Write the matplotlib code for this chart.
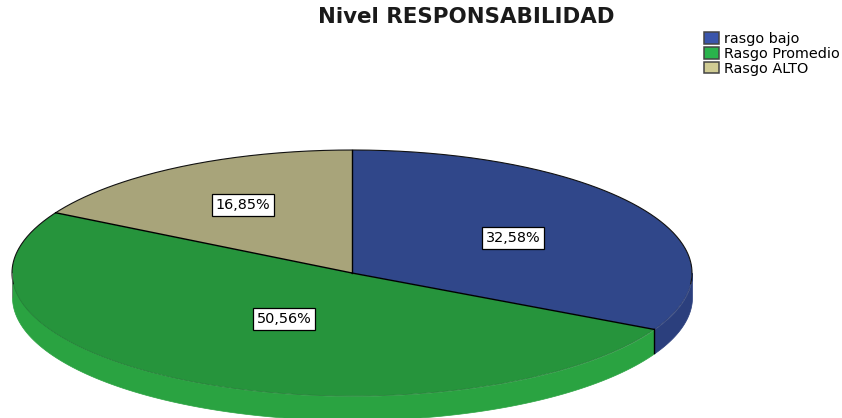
import numpy as np
import matplotlib
matplotlib.use("Agg")
import matplotlib.pyplot as plt
from matplotlib.patches import Patch

plt.rcParams['font.family'] = ['DejaVu Sans']

title = "Nivel RESPONSABILIDAD"
categories = ["rasgo bajo", "Rasgo Promedio", "Rasgo ALTO"]
values = [32.58, 50.56, 16.85]
labels = ["32,58%", "50,56%", "16,85%"]

top_colors = ["#30478a", "#26943c", "#a8a47a"]
side_colors = ["#2b3f7d", "#2aa341", "#98946c"]
legend_colors = ["#3a55ab", "#2ab34c", "#d0cc94"]

W, H = 842, 418
cx, cy = 352, 273      # pie centre in pixels
rx, ry = 340, 123      # ellipse radii in pixels
depth = 24 / ry        # side height in axis units

fig = plt.figure(figsize=(W / 100, H / 100), dpi=100)
ax = fig.add_axes([0, 0, 1, 1])

# wedge edges, clockwise from the top
fracs = np.array(values) / sum(values)
edges = 90 - 360 * np.concatenate(([0], np.cumsum(fracs)))

# side band, only the front half of the ellipse is visible
for i in range(len(values)):
    a1, a0 = edges[i], edges[i + 1]
    a0 = max(a0, -180)
    a1 = min(a1, 0)
    if a1 <= a0:
        continue
    t = np.radians(np.linspace(a0, a1, 120))
    ax.fill_between(np.cos(t), np.sin(t) - depth, np.sin(t), color=side_colors[i], lw=0.5, zorder=1)

# top of the pie
ax.pie(values, colors=top_colors, startangle=90, counterclock=False, radius=1,
       wedgeprops=dict(edgecolor="none", zorder=2))
ax.set_aspect("auto")
ax.set_xlim(-cx / rx, (W - cx) / rx)
ax.set_ylim((cy - H) / ry, cy / ry)
ax.axis("off")

# black outline only on the back half and the radial lines
t = np.radians(np.linspace(-5, 185, 300))
ax.plot(np.cos(t), np.sin(t), color="#111111", lw=0.8, zorder=3)
for e in edges[:-1]:
    a = np.radians(e)
    ax.plot([0, np.cos(a)], [0, np.sin(a)], color="black", lw=1.0, zorder=3)

# soft front rim
t = np.radians(np.linspace(-175, edges[1], 200))
ax.plot(np.cos(t), np.sin(t), color="#237f36", lw=0.6, zorder=2.5)
t = np.radians(np.linspace(edges[1], -5, 30))
ax.plot(np.cos(t), np.sin(t), color="#26386f", lw=0.6, zorder=2.5)

# side edge lines
a = np.radians(edges[1])
ax.plot([np.cos(a), np.cos(a)], [np.sin(a), np.sin(a) - depth], color="black", lw=1.0, zorder=3)
ax.plot([-1, -1], [0, -depth], color="#777777", lw=0.5, zorder=3)

# percent labels
label_pos = [(513, 238), (284, 319), (243, 205)]
for text, (px, py) in zip(labels, label_pos):
    fig.text(px / W, 1 - py / H, text, ha="center", va="center", fontsize=10.4, color="black", zorder=5,
             bbox=dict(boxstyle="square,pad=0.25", facecolor="white", edgecolor="black", linewidth=0.9))

fig.text(466 / W, 1 - 17 / H, title, ha="center", va="center", fontsize=15.4, fontweight="bold", color="#1a1a1a")

handles = [Patch(facecolor=c, edgecolor="#444444", linewidth=1.1) for c in legend_colors]
fig.legend(handles, categories, loc="upper left", bbox_to_anchor=(704 / W, 1 - 32 / H), frameon=False,
           fontsize=10.4, handlelength=1.05, handleheight=0.85, handletextpad=0.35, labelspacing=0.06,
           borderpad=0, borderaxespad=0)

fig.savefig("out.png", dpi=100)
